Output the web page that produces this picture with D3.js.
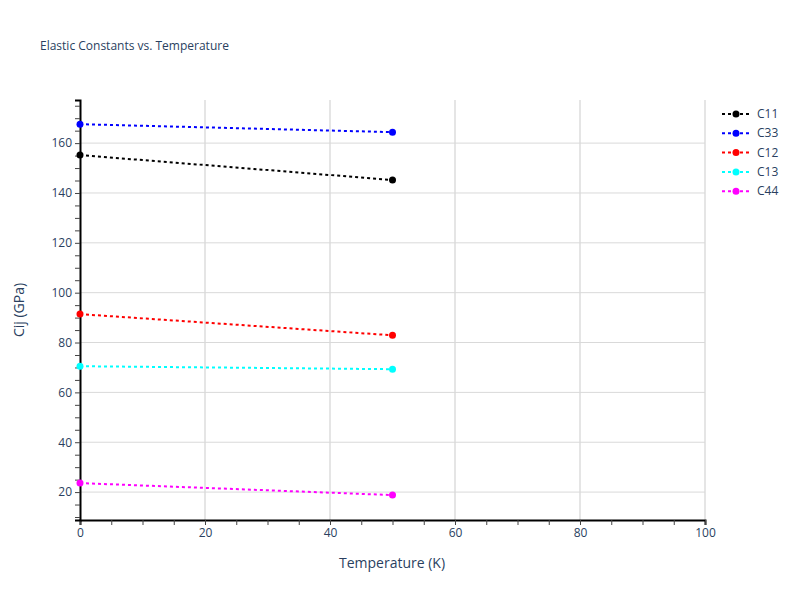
<!DOCTYPE html>
<html><head><meta charset="utf-8">
<script src="https://cdn.jsdelivr.net/npm/d3@7"></script>
<style>body{margin:0;background:#fff;font-family:"Open Sans",sans-serif;}</style>
</head><body><svg id="chart" width="800" height="600"></svg>
<script>
var temps = [0, 50];
var seriesNames = ["C11", "C33", "C12", "C13", "C44"];
var seriesColors = ["black", "blue", "red", "cyan", "magenta"];
var c11 = [155.2, 145.2];
var c33 = [167.6, 164.4];
var c12 = [91.4, 82.9];
var c13 = [70.5, 69.3];
var c44 = [23.6, 18.8];
var allValues = [c11, c33, c12, c13, c44];

var svg = d3.select("#chart");
var x = d3.scaleLinear().domain([0, 100]).range([80, 705]);
var y = d3.scaleLinear().domain([8.8, 177.3]).range([520, 100]);
var textCol = "#2a3f5f";

// grid
svg.selectAll(".gx").data([20, 40, 60, 80, 100]).enter().append("line")
	.attr("x1", d => x(d)).attr("x2", d => x(d)).attr("y1", 100).attr("y2", 520)
	.attr("stroke", "#e5e5e5").attr("stroke-width", 2);
svg.selectAll(".gy").data([20, 40, 60, 80, 100, 120, 140, 160]).enter().append("line")
	.attr("x1", 80).attr("x2", 705).attr("y1", d => y(d)).attr("y2", d => y(d))
	.attr("stroke", "#d9d9d9").attr("stroke-width", 1);

// axes
var xa = svg.append("g").attr("transform", "translate(0,520)")
	.call(d3.axisBottom(x).tickValues(d3.range(0, 101, 5)).tickSize(5)
		.tickFormat(d => d % 20 === 0 ? d : ""));
var ya = svg.append("g").attr("transform", "translate(80,0)")
	.call(d3.axisLeft(y).tickValues(d3.range(10, 176, 5)).tickSize(5)
		.tickFormat(d => d % 20 === 0 ? d : ""));
[xa, ya].forEach(function(a){
	a.select(".domain").attr("stroke", "black").attr("stroke-width", 2);
	a.selectAll("line").attr("stroke", "#444");
	a.selectAll("text").attr("fill", textCol).style("font-size", "12px").style("font-family", "Open Sans");
});

// series
allValues.forEach(function(vals, i){
	var pts = temps.map((t, j) => [t, vals[j]]);
	svg.append("path").datum(pts)
		.attr("d", d3.line().x(d => x(d[0])).y(d => y(d[1])))
		.attr("fill", "none").attr("stroke", seriesColors[i]).attr("stroke-width", 2)
		.attr("stroke-dasharray", "3,3");
	svg.selectAll(".p" + i).data(pts).enter().append("circle")
		.attr("cx", d => x(d[0])).attr("cy", d => y(d[1])).attr("r", 3.5)
		.attr("fill", seriesColors[i]);
});

// legend
seriesNames.forEach(function(n, i){
	var ly = 114 + i * 19.3;
	svg.append("line").attr("x1", 722).attr("x2", 750).attr("y1", ly).attr("y2", ly)
		.attr("stroke", seriesColors[i]).attr("stroke-width", 2).attr("stroke-dasharray", "3,3");
	svg.append("circle").attr("cx", 736).attr("cy", ly).attr("r", 3.5).attr("fill", seriesColors[i]);
	svg.append("text").attr("x", 757).attr("y", ly + 4).text(n)
		.attr("fill", textCol).style("font-size", "12px");
});

svg.append("text").attr("x", 40).attr("y", 50).text("Elastic Constants vs. Temperature")
	.attr("fill", textCol).style("font-size", "12px");
svg.append("text").attr("x", 392).attr("y", 568).attr("text-anchor", "middle")
	.text("Temperature (K)").attr("fill", textCol).style("font-size", "14px");
svg.append("text").attr("transform", "translate(24,310) rotate(-90)").attr("text-anchor", "middle")
	.text("Cij (GPa)").attr("fill", textCol).style("font-size", "14px");
</script></body></html>
